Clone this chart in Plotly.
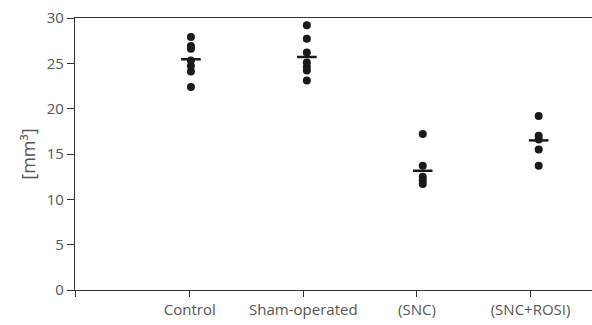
import plotly.graph_objects as go

categories = ["Control", "Sham-operated", "(SNC)", "(SNC+ROSI)"]
group_pos = [1, 2, 3, 4]
control = [27.9, 26.9, 26.6, 25.3, 24.7, 24.1, 22.4]
sham = [29.2, 27.7, 26.2, 25.1, 24.6, 24.2, 23.1]
snc = [17.2, 13.7, 12.5, 12.1, 11.7]
snc_rosi = [19.2, 17.0, 16.6, 15.5, 13.7]
means = [25.45, 25.7, 13.15, 16.5]
label_pos = [0.99, 1.97, 2.95, 3.93]
y_ticks = [0, 5, 10, 15, 20, 25, 30]

groups = [control, sham, snc, snc_rosi]
fig = go.Figure()
for pos, vals in zip(group_pos, groups):
    fig.add_trace(go.Scatter(
        x=[pos] * len(vals), y=vals, mode="markers",
        marker=dict(color="#1a1a1a", size=8),
        showlegend=False, hoverinfo="y"))
fig.add_trace(go.Scatter(
    x=group_pos, y=means, mode="markers",
    marker=dict(symbol="line-ew", size=14, line=dict(color="#1a1a1a", width=2.5)),
    showlegend=False, hoverinfo="y"))

font = dict(family="Open Sans, Noto Sans, sans-serif", size=15, color="#555555")
fig.update_layout(
    width=592, height=325,
    margin=dict(l=75, r=0, t=18, b=35),
    paper_bgcolor="white", plot_bgcolor="white",
    font=font,
    xaxis=dict(range=[0, 4.46], tickvals=[0] + label_pos, ticktext=[""] + categories,
               showline=True, linecolor="#333333", linewidth=1.2, mirror=True,
               ticks="outside", ticklen=6, tickcolor="#333333",
               showgrid=False, zeroline=False),
    yaxis=dict(range=[0, 30], tickvals=y_ticks,
               showline=True, linecolor="#333333", linewidth=1.2,
               ticks="outside", ticklen=7, tickcolor="#333333",
               showgrid=False, zeroline=False,
               title=dict(text="[mm³]", standoff=6)),
)
fig.write_html("out.html")
